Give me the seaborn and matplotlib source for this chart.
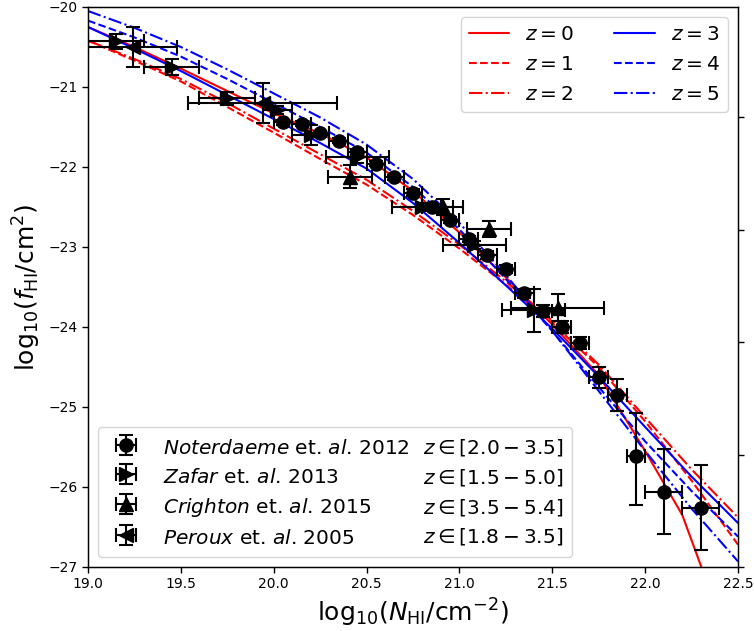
import numpy as np
import pandas as pd
import matplotlib
matplotlib.use("Agg")
import matplotlib.pyplot as plt
from matplotlib.lines import Line2D
import seaborn as sns

# ---------------- model curves (log10 N_HI grid and log10 f_HI) ----------------
N_grid = [19.0, 19.25, 19.5, 19.75, 20.0, 20.25, 20.5, 20.75, 21.0, 21.25,
          21.5, 21.75, 22.0, 22.25, 22.5]
N_z0 = [19.0, 19.25, 19.5, 19.75, 20.0, 20.25, 20.5, 20.75, 21.0, 21.25,
        21.5, 21.75, 22.0, 22.2, 22.35]
f_z0 = [-20.25, -20.50, -20.77, -21.05, -21.33, -21.58, -21.88, -22.30, -22.82,
        -23.38, -23.97, -24.60, -25.55, -26.35, -27.30]
f_z1 = [-20.42, -20.67, -20.93, -21.25, -21.57, -21.90, -22.22, -22.60, -23.02,
        -23.47, -23.95, -24.50, -25.18, -25.92, -26.72]
f_z2 = [-20.42, -20.65, -20.90, -21.20, -21.52, -21.84, -22.16, -22.55, -22.97,
        -23.43, -23.92, -24.47, -25.13, -25.78, -26.38]
f_z3 = [-20.25, -20.52, -20.80, -21.10, -21.40, -21.70, -22.02, -22.45, -22.95,
        -23.48, -24.02, -24.62, -25.25, -25.87, -26.45]
f_z4 = [-20.17, -20.38, -20.62, -20.90, -21.20, -21.50, -21.82, -22.25, -22.78,
        -23.40, -24.05, -24.75, -25.43, -26.05, -26.62]
f_z5 = [-20.05, -20.26, -20.50, -20.78, -21.08, -21.38, -21.72, -22.15, -22.70,
        -23.35, -24.05, -24.80, -25.55, -26.27, -26.93]

# ---------------- observational data ----------------
# Noterdaeme et al. 2012
not_N = [20.05, 20.15, 20.25, 20.35, 20.45, 20.55, 20.65, 20.75, 20.85, 20.95,
         21.05, 21.15, 21.25, 21.35, 21.45, 21.55, 21.65, 21.75, 21.85, 21.95,
         22.10, 22.30]
not_f = [-21.44, -21.46, -21.58, -21.67, -21.81, -21.96, -22.13, -22.32, -22.50,
         -22.66, -22.90, -23.10, -23.28, -23.58, -23.80, -24.00, -24.20, -24.63,
         -24.85, -25.61, -26.06, -26.26]
not_xerr = [0.05] * 20 + [0.10, 0.10]
not_yerr_lo = [0.03, 0.03, 0.03, 0.03, 0.03, 0.03, 0.03, 0.04, 0.04, 0.04,
               0.04, 0.05, 0.05, 0.06, 0.08, 0.08, 0.08, 0.13, 0.20, 0.61,
               0.53, 0.53]
not_yerr_hi = [0.03, 0.03, 0.03, 0.03, 0.03, 0.03, 0.03, 0.04, 0.04, 0.04,
               0.04, 0.05, 0.05, 0.06, 0.08, 0.08, 0.08, 0.13, 0.20, 0.53,
               0.53, 0.53]

# Zafar et al. 2013
zaf_N = [19.15, 19.45, 19.75, 20.02, 20.20, 20.45, 20.80, 21.08, 21.40]
zaf_f = [-20.43, -20.75, -21.14, -21.29, -21.60, -21.87, -22.50, -22.98, -23.79]
zaf_xerr = [0.15, 0.15, 0.15, 0.08, 0.10, 0.17, 0.165, 0.17, 0.17]
zaf_yerr = [0.09, 0.10, 0.08, 0.05, 0.12, 0.08, 0.05, 0.05, 0.27]

# Crighton et al. 2015
cri_N = [20.41, 20.91, 21.16, 21.53]
cri_f = [-22.12, -22.50, -22.77, -23.76]
cri_xerr = [0.12, 0.11, 0.12, 0.25]
cri_yerr = [0.14, 0.10, 0.10, 0.17]

# Peroux et al. 2005
per_N = [19.24, 19.94]
per_f = [-20.50, -21.20]
per_xerr = [0.24, 0.40]
per_yerr = [0.25, 0.25]

z_labels = ["$z=0$", "$z=1$", "$z=2$", "$z=3$", "$z=4$", "$z=5$"]
obs_labels = ["$Noterdaeme$ et. $al$. 2012", "$Zafar$ et. $al$. 2013",
              "$Crighton$ et. $al$. 2015", "$Peroux$ et. $al$. 2005"]
obs_z = [r"$z\in[2.0-3.5]$", r"$z\in[1.5-5.0]$", r"$z\in[3.5-5.4]$",
         r"$z\in[1.8-3.5]$"]

# ---------------- figure ----------------
sns.set_style("ticks")
plt.rcParams["font.family"] = ["DejaVu Sans"]
plt.rcParams["mathtext.fontset"] = "dejavusans"
for k in ["text.color", "axes.labelcolor", "xtick.color", "ytick.color",
          "axes.edgecolor"]:
    plt.rcParams[k] = "black"

fig = plt.figure(figsize=(7.54, 6.31), dpi=100)
ax = fig.add_axes([88 / 754, 1 - 567 / 631, (738 - 88) / 754, 560 / 631])

curves = [
    (N_z0, f_z0, "red", "-"),
    (N_grid, f_z1, "red", "--"),
    (N_grid, f_z2, "red", "-."),
    (N_grid, f_z3, "blue", "-"),
    (N_grid, f_z4, "blue", "--"),
    (N_grid, f_z5, "blue", "-."),
]
line_handles = []
for (xs, ys, c, ls), lab in zip(curves, z_labels):
    df = pd.DataFrame({"N": xs, "f": ys})
    sns.lineplot(data=df, x="N", y="f", color=c, linestyle=ls, lw=1.5,
                 sort=False, ax=ax, legend=False)
    line_handles.append(Line2D([], [], color=c, ls=ls, lw=1.5))

eb_kw = dict(color="black", ls="none", elinewidth=1.5, capsize=5, capthick=1.5,
             markersize=9.5)
h1 = ax.errorbar(not_N, not_f, xerr=not_xerr, yerr=[not_yerr_lo, not_yerr_hi],
                 fmt="o", **eb_kw)
h2 = ax.errorbar(zaf_N, zaf_f, xerr=zaf_xerr, yerr=zaf_yerr, fmt=">", **eb_kw)
h3 = ax.errorbar(cri_N, cri_f, xerr=cri_xerr, yerr=cri_yerr, fmt="^", **eb_kw)
h4 = ax.errorbar(per_N, per_f, xerr=per_xerr, yerr=per_yerr, fmt="<", **eb_kw)

ax.set_xlim(19.0, 22.5)
ax.set_ylim(-27, -20)
ax.set_xticks([19.0, 19.5, 20.0, 20.5, 21.0, 21.5, 22.0, 22.5])
ax.set_xticklabels(["19.0", "19.5", "20.0", "20.5", "21.0", "21.5", "22.0", "22.5"])
ax.set_yticks([-27, -26, -25, -24, -23, -22, -21, -20])
ax.tick_params(axis="both", labelsize=10, direction="out", length=4, width=1)
ax.set_xlabel(r"$\mathrm{log}_{10}(N_{\rm HI}/{\rm cm}^{-2})$", fontsize=18)
ax.set_ylabel(r"$\mathrm{log}_{10}(f_{\rm HI}/{\rm cm}^{2})$", fontsize=18)
for s in ax.spines.values():
    s.set_visible(True)
    s.set_linewidth(1.0)
    s.set_color("black")

leg1 = ax.legend(line_handles, z_labels, loc="upper right", ncol=2,
                 fontsize=14.5, labelspacing=0.55)
ax.add_artist(leg1)

blank = [Line2D([], [], ls="none", marker=None) for _ in range(4)]
leg2 = ax.legend([h1, h2, h3, h4] + blank, obs_labels + obs_z, loc="lower left",
                 ncol=2, fontsize=14.5, columnspacing=-2.1, handleheight=1.4,
                 labelspacing=0.32)

ax2 = ax.twinx()
ax2.set_ylim(0, 4.98)
ax2.set_yticks([0, 1, 2, 3, 4])
ax2.set_yticklabels([])
ax2.tick_params(axis="y", direction="out", length=4, width=1)
ax2.spines["right"].set_color("black")

fig.savefig("out.png", dpi=100)
